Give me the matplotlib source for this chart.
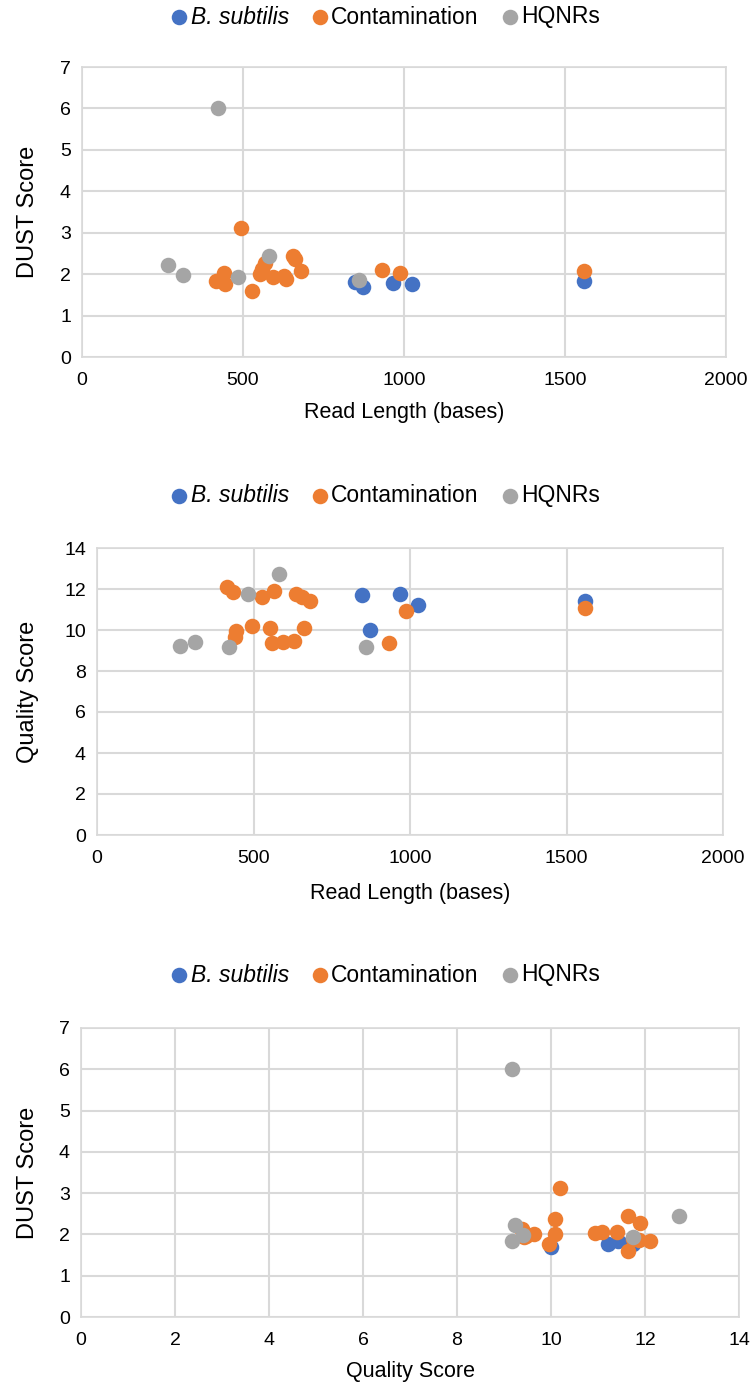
import numpy as np
import matplotlib.pyplot as plt

plt.rcParams['font.family'] = ['Liberation Sans', 'DejaVu Sans']

# reads: length (bases), DUST score, quality score
bsub_len = [848, 872, 967, 1026, 1560]
bsub_dust = [1.82, 1.69, 1.78, 1.76, 1.84]
bsub_qual = [11.71, 10.0, 11.74, 11.22, 11.43]

cont_len = [415, 434, 442, 445, 495, 527, 553, 559, 567, 594, 628, 635, 655, 660, 681, 933, 988, 1558]
cont_dust = [1.84, 1.86, 2.02, 1.77, 3.12, 1.60, 2.00, 2.12, 2.28, 1.93, 1.96, 1.88, 2.45, 2.37, 2.07, 2.11, 2.03, 2.07]
cont_qual = [12.11, 11.87, 9.64, 9.95, 10.19, 11.63, 10.08, 9.38, 11.90, 9.43, 9.46, 11.74, 11.63, 10.08, 11.41, 9.38, 10.93, 11.09]

hq_len = [266, 314, 421, 484, 581, 861]
hq_dust = [2.22, 1.99, 6.00, 1.94, 2.45, 1.85]
hq_qual = [9.23, 9.41, 9.17, 11.74, 12.73, 9.16]

series = [
    ('B. subtilis', '#4472C4', bsub_len, bsub_dust, bsub_qual),
    ('Contamination', '#ED7D31', cont_len, cont_dust, cont_qual),
    ('HQNRs', '#A5A5A5', hq_len, hq_dust, hq_qual),
]

W, H = 756, 1390
fig = plt.figure(figsize=(W / 100, H / 100), dpi=100)

grid_col = '#D9D9D9'

def px_axes(l, r, t, b):
    return fig.add_axes([l / W, 1 - b / H, (r - l) / W, (b - t) / H])

# (axes box in px, x field, y field, xlim, xticks, ylim, yticks, xlabel, ylabel, legend y, xlabel y)
panels = [
    ((82, 726, 67, 357), 2, 3, (0, 2000), np.arange(0, 2001, 500), (0, 7), np.arange(0, 8, 1),
     'Read Length (bases)', 'DUST Score', 17, 412),
    ((97, 723, 548, 835), 2, 4, (0, 2000), np.arange(0, 2001, 500), (0, 14), np.arange(0, 15, 2),
     'Read Length (bases)', 'Quality Score', 496, 893),
    ((81, 739, 1028, 1317), 4, 3, (0, 14), np.arange(0, 15, 2), (0, 7), np.arange(0, 8, 1),
     'Quality Score', 'DUST Score', 975, 1372),
]

for box, xi, yi, xlim, xt, ylim, yt, xlab, ylab, leg_y, xlab_y in panels:
    ax = px_axes(*box)
    for s in series:
        ax.scatter(s[xi], s[yi], s=125, color=s[1], label=s[0], zorder=3, linewidths=0)
    ax.set_xlim(*xlim)
    ax.set_ylim(*ylim)
    ax.set_xticks(xt)
    ax.set_yticks(yt)
    ax.grid(True, color=grid_col, linewidth=1.5, zorder=0)
    ax.set_axisbelow(True)
    for sp in ax.spines.values():
        sp.set_color(grid_col)
        sp.set_linewidth(1.2)
    ax.tick_params(length=0, labelsize=14, pad=8, colors='#000000')
    ax.tick_params(axis='x', pad=11)
    l, r, t, b = box
    fig.text(((l + r) / 2) / W, 1 - xlab_y / H, xlab, ha='center', va='center', fontsize=15.5)
    fig.text(28 / W, 1 - ((t + b) / 2) / H, ylab, ha='center', va='center', rotation=90, fontsize=17)
    leg = fig.legend(*ax.get_legend_handles_labels(), loc='center', bbox_to_anchor=(385 / W, 1 - leg_y / H),
                     ncol=3, frameon=False, fontsize=16.5, handlelength=0.8, handletextpad=0.1,
                     columnspacing=0.95, markerscale=1.0, borderaxespad=0)
    leg.get_texts()[0].set_fontstyle('italic')

fig.savefig('out.png', dpi=100)
